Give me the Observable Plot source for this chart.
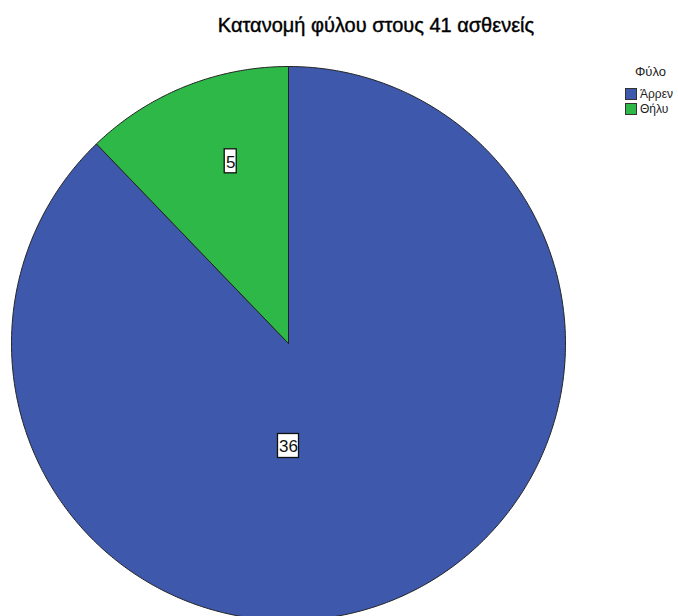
<!DOCTYPE html>
<html>
<head>
<meta charset="utf-8">
<script src="https://cdn.jsdelivr.net/npm/d3@7"></script>
<script src="https://cdn.jsdelivr.net/npm/@observablehq/plot@0.6"></script>
<style>
  html, body { margin: 0; padding: 0; background: #fff; overflow: hidden; }
  #wrap { position: relative; width: 678px; height: 616px; font-family: "Liberation Sans", Arial, sans-serif; }
  #title { position: absolute; left: 0; top: 14px; width: 752px; text-align: center; font-size: 20px; font-weight: normal; color: #000; -webkit-text-stroke: 0.4px #000; }
  #chart { position: absolute; left: 0; top: 45px; }
  #legend { position: absolute; left: 625px; top: 64px; font-size: 12px; color: #222; white-space: nowrap; }
  #legend .lt { font-size: 13px; margin-left: 10px; margin-bottom: 7px; }
  #legend .row { display: flex; align-items: center; height: 15px; }
  #legend .sw { width: 12px; height: 12px; border: 1px solid #333; box-sizing: border-box; margin-right: 3px; }
</style>
</head>
<body>
<div id="wrap">
  <div id="title"></div>
  <div id="chart"></div>
  <div id="legend"></div>
</div>
<script>
const title = "Κατανομή φύλου στους 41 ασθενείς";
const legendTitle = "Φύλο";
const categories = ["Άρρεν", "Θήλυ"];
const counts = [36, 5];
const colors = ["#3E58AC", "#2EB848"];
// label placement: angle (deg, clockwise from top) and radius fraction
const labelAngle = [180, -17.6];
const labelRadius = [0.37, 0.69];

document.getElementById("title").textContent = title;

// pie geometry: Άρρεν clockwise from 12 o'clock, Θήλυ fills the rest
const total = d3.sum(counts);
const pts = [];
let start = 0;
categories.forEach((c, i) => {
  const a0 = start, a1 = start + counts[i] / total * 2 * Math.PI;
  const n = Math.max(2, Math.ceil((a1 - a0) / (Math.PI / 360)));
  pts.push({cat: c, x: 0, y: 0});
  for (let k = 0; k <= n; k++) {
    const a = a0 + (a1 - a0) * k / n;
    pts.push({cat: c, x: Math.sin(a), y: Math.cos(a)});
  }
  pts.push({cat: c, x: 0, y: 0});
  start = a1;
});

const pxPerUnit = 277;
const labels = categories.map((c, i) => {
  const a = labelAngle[i] * Math.PI / 180;
  const x = labelRadius[i] * Math.sin(a), y = labelRadius[i] * Math.cos(a);
  const txt = String(counts[i]);
  const hw = (txt.length * 9 + 3) / 2 / pxPerUnit, hh = 12 / pxPerUnit;
  return {cat: c, txt, x, y, x1: x - hw, x2: x + hw, y1: y - hh, y2: y + hh};
});

const cx = 288, cy = 298, R = 277;
const plot = Plot.plot({
  width: 678,
  height: 571,
  margin: 0,
  x: {domain: [-1, 1], range: [cx - R, cx + R], axis: null},
  y: {domain: [-1, 1], range: [cy + R, cy - R], axis: null},
  color: {domain: categories, range: colors},
  style: {overflow: "visible", background: "transparent"},
  marks: [
    Plot.line(pts, {x: "x", y: "y", z: "cat", fill: "cat", stroke: "#222", strokeWidth: 1, curve: "linear", strokeLinejoin: "round"}),
    Plot.rect(labels, {x1: "x1", x2: "x2", y1: "y1", y2: "y2", fill: "white", stroke: "#111", strokeWidth: 1.3}),
    Plot.text(labels, {x: "x", y: "y", text: "txt", fontSize: 17, fill: "#111", fontFamily: "Liberation Sans Narrow, Liberation Sans, Arial, sans-serif", dy: 1})
  ]
});
document.getElementById("chart").appendChild(plot);

const lg = document.getElementById("legend");
const lt = document.createElement("div");
lt.className = "lt"; lt.textContent = legendTitle; lg.appendChild(lt);
categories.forEach((c, i) => {
  const row = document.createElement("div"); row.className = "row";
  const sw = document.createElement("div"); sw.className = "sw"; sw.style.background = colors[i];
  const tx = document.createElement("span"); tx.textContent = c;
  row.appendChild(sw); row.appendChild(tx); lg.appendChild(row);
});
</script>
</body>
</html>
